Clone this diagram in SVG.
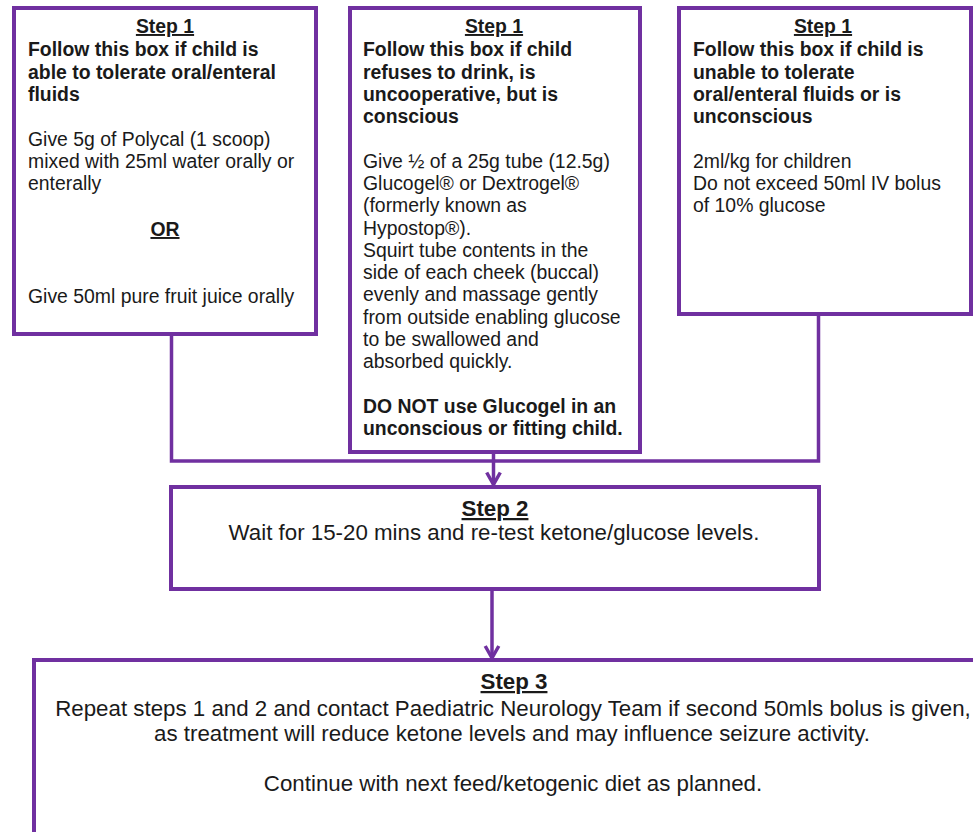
<svg xmlns="http://www.w3.org/2000/svg" width="973" height="832" viewBox="0 0 973 832">
<style>
  .box { fill: #ffffff; stroke: #7030a0; stroke-width: 4; }
  .conn { fill: none; stroke: #7030a0; stroke-width: 3.5; }
  text { font-family: "Liberation Sans", Arial, sans-serif; fill: #1a1a1a; }
  .s { font-size: 19.4px; }
  .b { font-weight: bold; }
  .h { font-weight: bold; text-decoration: underline; text-anchor: middle; }
  .L { font-size: 22.3px; }
  .c { text-anchor: middle; }
</style>
<defs>
  <marker id="arr" markerUnits="userSpaceOnUse" markerWidth="30" markerHeight="30" refX="0" refY="0" orient="auto" viewBox="-15 -15 30 30" overflow="visible">
    <path d="M-12,-6.8 L0,0 L-12,6.8" fill="none" stroke="#7030a0" stroke-width="3.5"/>
  </marker>
</defs>
<rect width="973" height="832" fill="#ffffff"/>

<g id="connectors">
  <path class="conn" d="M171.5,334 V461 H818.5 V314"/>
  <path class="conn" d="M493.5,452 V484.5" marker-end="url(#arr)"/>
  <path class="conn" d="M492,589 V658" marker-end="url(#arr)"/>
</g>

<g id="box1">
  <rect class="box" x="14" y="8" width="302" height="326"/>
  <text class="s h" x="165" y="33">Step 1</text>
  <text class="s b" x="28" y="56">Follow this box if child is</text>
  <text class="s b" x="28" y="79">able to tolerate oral/enteral</text>
  <text class="s b" x="28" y="101">fluids</text>
  <text class="s" x="28" y="146">Give 5g of Polycal (1 scoop)</text>
  <text class="s" x="28" y="168">mixed with 25ml water orally or</text>
  <text class="s" x="28" y="190">enterally</text>
  <text class="s h" x="165" y="236">OR</text>
  <text class="s" x="28" y="303">Give 50ml pure fruit juice orally</text>
</g>

<g id="box2">
  <rect class="box" x="350" y="8" width="290" height="444"/>
  <text class="s h" x="494" y="33">Step 1</text>
  <text class="s b" x="363" y="56">Follow this box if child</text>
  <text class="s b" x="363" y="79">refuses to drink, is</text>
  <text class="s b" x="363" y="101">uncooperative, but is</text>
  <text class="s b" x="363" y="123">conscious</text>
  <text class="s" x="363" y="168">Give ½ of a 25g tube (12.5g)</text>
  <text class="s" x="363" y="190">Glucogel® or Dextrogel®</text>
  <text class="s" x="363" y="212">(formerly known as</text>
  <text class="s" x="363" y="235">Hypostop®).</text>
  <text class="s" x="363" y="257">Squirt tube contents in the</text>
  <text class="s" x="363" y="279">side of each cheek (buccal)</text>
  <text class="s" x="363" y="301">evenly and massage gently</text>
  <text class="s" x="363" y="324">from outside enabling glucose</text>
  <text class="s" x="363" y="346">to be swallowed and</text>
  <text class="s" x="363" y="368">absorbed quickly.</text>
  <text class="s b" x="363" y="413">DO NOT use Glucogel in an</text>
  <text class="s b" x="363" y="435">unconscious or fitting child.</text>
</g>

<g id="box3">
  <rect class="box" x="679" y="8" width="292" height="306"/>
  <text class="s h" x="823" y="33">Step 1</text>
  <text class="s b" x="693" y="56">Follow this box if child is</text>
  <text class="s b" x="693" y="79">unable to tolerate</text>
  <text class="s b" x="693" y="101">oral/enteral fluids or is</text>
  <text class="s b" x="693" y="123">unconscious</text>
  <text class="s" x="693" y="168">2ml/kg for children</text>
  <text class="s" x="693" y="190">Do not exceed 50ml IV bolus</text>
  <text class="s" x="693" y="212">of 10% glucose</text>
</g>

<g id="step2">
  <rect class="box" x="171" y="487" width="648" height="102"/>
  <text class="L h" x="495" y="516">Step 2</text>
  <text class="L c" x="494" y="540">Wait for 15-20 mins and re-test ketone/glucose levels.</text>
</g>

<g id="step3">
  <rect class="box" x="34" y="660" width="1000" height="300"/>
  <text class="L h" x="514" y="689">Step 3</text>
  <text class="L c" x="513" y="716">Repeat steps 1 and 2 and contact Paediatric Neurology Team if second 50mls bolus is given,</text>
  <text class="L c" x="512" y="741">as treatment will reduce ketone levels and may influence seizure activity.</text>
  <text class="L c" x="513" y="791">Continue with next feed/ketogenic diet as planned.</text>
</g>
</svg>
